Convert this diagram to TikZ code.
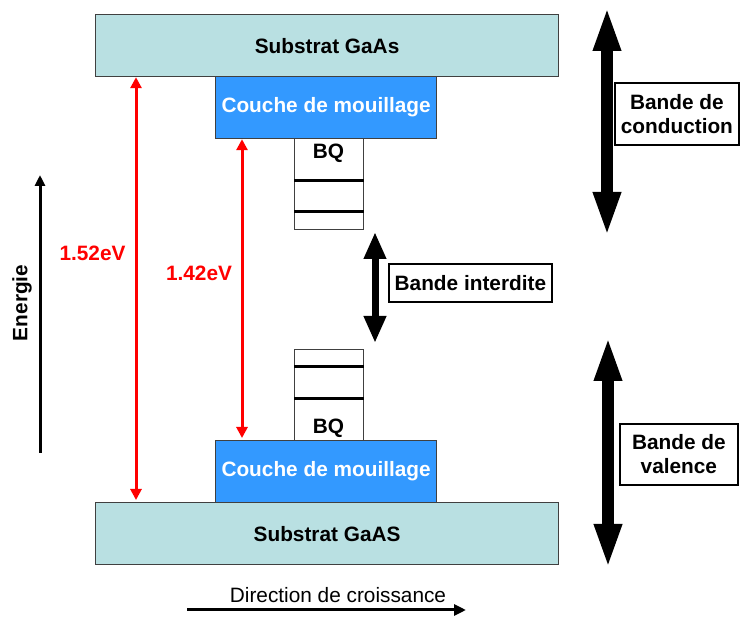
\documentclass[tikz,border=0pt]{standalone}
\usepackage{fontspec}
\setmainfont{Liberation Sans}
\usetikzlibrary{arrows.meta}
\definecolor{subfill}{RGB}{185,224,226}
\definecolor{wetfill}{RGB}{51,153,255}
\definecolor{edgegray}{RGB}{64,64,64}
\begin{document}
\begin{tikzpicture}[x=1pt,y=-1pt,
  font=\fontsize{20.8}{24}\selectfont\bfseries,
  layer/.style={draw=edgegray, line width=1.2pt, inner sep=0pt, anchor=north west},
  substrate/.style={layer, fill=subfill, minimum width=463pt, minimum height=62pt},
  wetting/.style={layer, fill=wetfill, text=white, minimum width=221pt, minimum height=62pt},
  qdbox/.style={layer, fill=white, minimum width=69pt, minimum height=91pt},
  level/.style={line width=3pt, black},
  redarrow/.style={red, line width=3pt, {Triangle[width=11pt,length=11pt]}-{Triangle[width=11pt,length=11pt]}},
  bigarrow/.style={line width=12pt, {Triangle[width=25pt,length=45pt]}-{Triangle[width=25pt,length=45pt]}},
  midarrow/.style={line width=7pt, {Triangle[width=21pt,length=27pt]}-{Triangle[width=21pt,length=27pt]}},
  bandbox/.style={draw=black, line width=1.8pt, fill=white, inner sep=0pt, anchor=north west, align=center},
  plainarrow/.style={line width=3pt, -{Triangle[width=11pt,length=12pt]}}
]
\useasboundingbox (0,0) rectangle (740,617);

% layers
\node[substrate] (s1) at (95,14) {Substrat GaAs};
\node[wetting] (w1) at (215,76) {Couche de mouillage};
\node[qdbox] (q1) at (294,138) {};
\node (q1t) at (328.5,153) {BQ};
\draw[level] ([yshift=-43pt]q1.north west) -- ([yshift=-43pt]q1.north east);
\draw[level] ([yshift=-74pt]q1.north west) -- ([yshift=-74pt]q1.north east);

\node[qdbox] (q2) at (294,349) {};
\node (q2t) at (328.5,428) {BQ};
\draw[level] ([yshift=-18pt]q2.north west) -- ([yshift=-18pt]q2.north east);
\draw[level] ([yshift=-50pt]q2.north west) -- ([yshift=-50pt]q2.north east);
\node[wetting] (w2) at (215,440) {Couche de mouillage};
\node[substrate] (s2) at (95,502) {Substrat GaAS};

% red transitions
\draw[redarrow] ([xshift=41pt]s1.south west) -- ([xshift=41pt,yshift=2pt]s2.north west);
\draw[redarrow] ([xshift=27pt]w1.south west) -- ([xshift=27pt,yshift=2pt]w2.north west);
\node[text=red] (e152) at (92.5,253) {1.52eV};
\node[text=red] (e142) at (199,273) {1.42eV};

% energy axis
\coordinate (ebot) at (40,453);
\coordinate (etop) at (40,175);
\draw[line width=3pt, -{Triangle[width=10pt,length=11pt]}] (ebot) -- (etop);
\node[rotate=90] (elab) at (22,303) {Energie};

% bands
\coordinate (cb1) at (607,237);
\coordinate (cb2) at (607,6);
\draw[bigarrow] (cb1) -- (cb2);
\node[bandbox, minimum width=124pt, minimum height=62pt] (cbl) at (614,82) {Bande de\\conduction};

\coordinate (gap1) at (375,343);
\coordinate (gap2) at (375,232);
\draw[midarrow] (gap1) -- (gap2);
\node[bandbox, minimum width=163pt, minimum height=38pt] (gapl) at (388,263) {Bande interdite};

\coordinate (vb1) at (608,569);
\coordinate (vb2) at (608,336);
\draw[bigarrow] (vb1) -- (vb2);
\node[bandbox, minimum width=118pt, minimum height=61pt] (vbl) at (619,423) {Bande de\\valence};

% growth direction
\coordinate (d1) at (187,610);
\coordinate (d2) at (466,610);
\draw[plainarrow] (d1) -- (d2);
\node[font=\fontsize{20.8}{24}\selectfont] (dlab) at (338,595) {Direction de croissance};
\end{tikzpicture}
\end{document}
